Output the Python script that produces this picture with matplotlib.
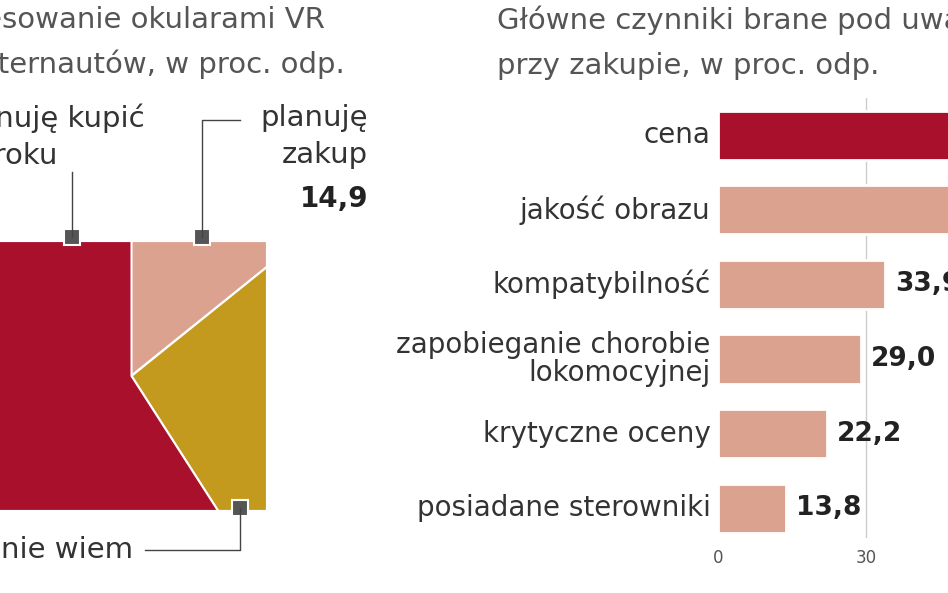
import matplotlib.pyplot as plt
from matplotlib.patches import Polygon, Rectangle

pie_labels = ["planuję zakup", "nie wiem", "nie planuję kupić"]
pie_values = [14.9, 27.1, 58.0]
pie_colors = ["#dba28f", "#c49a1e", "#a8102c"]

cats = ["cena", "jakość obrazu", "kompatybilność", "zapobieganie chorobie\nlokomocyjnej",
        "krytyczne oceny", "posiadane sterowniki"]
vals = [61.0, 48.0, 33.9, 29.0, 22.2, 13.8]
vlabels = ["61,0", "48,0", "33,9", "29,0", "22,2", "13,8"]

fig = plt.figure(figsize=(9.48, 5.93), dpi=100)
bg = fig.add_axes([0, 0, 1, 1])
bg.set_xlim(0, 948); bg.set_ylim(593, 0); bg.axis("off")

x0, x1, y0, y1 = -5, 268, 240, 512
cx, cy = (x0 + x1) / 2, (y0 + y1) / 2
s = x1 - x0
def perim(d):
    pts = [(cx, y0), (x1, y0), (x1, y1), (x0, y1), (x0, y0), (cx, y0)]
    segs = [s/2, s, s, s, s/2]
    path = [pts[0]]
    for i, L in enumerate(segs):
        if d <= L:
            a, b = pts[i], pts[i+1]
            t = d / L
            path.append((a[0] + (b[0]-a[0])*t, a[1] + (b[1]-a[1])*t))
            return path
        d -= L
        path.append(pts[i+1])
    return path
total = 4 * s
cum = 0
for v, c in zip(pie_values, pie_colors):
    p_start = perim(cum / 100 * total)
    p_end = perim((cum + v) / 100 * total)
    boundary = p_end[len(p_start)-1:]
    poly = [(cx, cy), p_start[-1]] + boundary
    bg.add_patch(Polygon(poly, closed=True, fc=c, ec="white", lw=1.5))
    cum += v
bg.add_patch(Rectangle((x0, y0), s, y1 - y0, fill=False, ec="white", lw=3))

tc = "#333333"
fs = 21
bg.text(325, 20, "Zainteresowanie okularami VR", ha="right", va="center", fontsize=fs, color="#555")
bg.text(345, 64, "wśród internautów, w proc. odp.", ha="right", va="center", fontsize=fs, color="#555")
bg.text(497, 20, "Główne czynniki brane pod uwagę", ha="left", va="center", fontsize=fs, color="#555")
bg.text(497, 66, "przy zakupie, w proc. odp.", ha="left", va="center", fontsize=fs, color="#555")

bg.text(145, 118, "nie planuję kupić", ha="right", va="center", fontsize=fs, color=tc)
bg.text(57, 156, "w tym roku", ha="right", va="center", fontsize=fs, color=tc)
bg.plot([72, 72], [172, 237], color="#444", lw=1)
bg.text(368, 118, "planuję", ha="right", va="center", fontsize=fs, color=tc)
bg.text(368, 155, "zakup", ha="right", va="center", fontsize=fs, color=tc)
bg.text(368, 199, "14,9", ha="right", va="center", fontsize=20, fontweight="bold", color="#222")
bg.plot([240, 202, 202], [120, 120, 237], color="#444", lw=1)
bg.text(133, 550, "nie wiem", ha="right", va="center", fontsize=fs, color=tc)
bg.plot([145, 240, 240], [550, 550, 508], color="#444", lw=1)
for (mx, my) in [(72, 237), (202, 237), (240, 508)]:
    bg.add_patch(Rectangle((mx-8, my-8), 16, 16, fc="#555", ec="white", lw=1.5))

ax = fig.add_axes([718/948, 1 - 538/593, (948-718)/948, 440/593])
ax.set_xlim(0, (948 - 718) / 4.93)
ax.set_ylim(5.4, -0.5)
cols = ["#a8102c"] + ["#dba28f"] * 5
ax.axvline(30, color="#cccccc", lw=1, zorder=0)
ax.barh(range(len(vals)), vals, height=0.66, color=cols, edgecolor="white", lw=2)
for i, (v, l, c) in enumerate(zip(vals, vlabels, cats)):
    ax.text(v + 2, i, l, va="center", ha="left", fontsize=19, fontweight="bold", color="#222")
    ax.text(-1.5, i, c, va="center", ha="right", fontsize=20, color=tc, linespacing=1.0)
for sp in ax.spines.values():
    sp.set_visible(False)
ax.set_yticks([])
ax.set_xticks([0, 30])
ax.tick_params(axis="x", length=0, labelsize=12, colors="#555", pad=8)
fig.savefig("out.png", dpi=100)
